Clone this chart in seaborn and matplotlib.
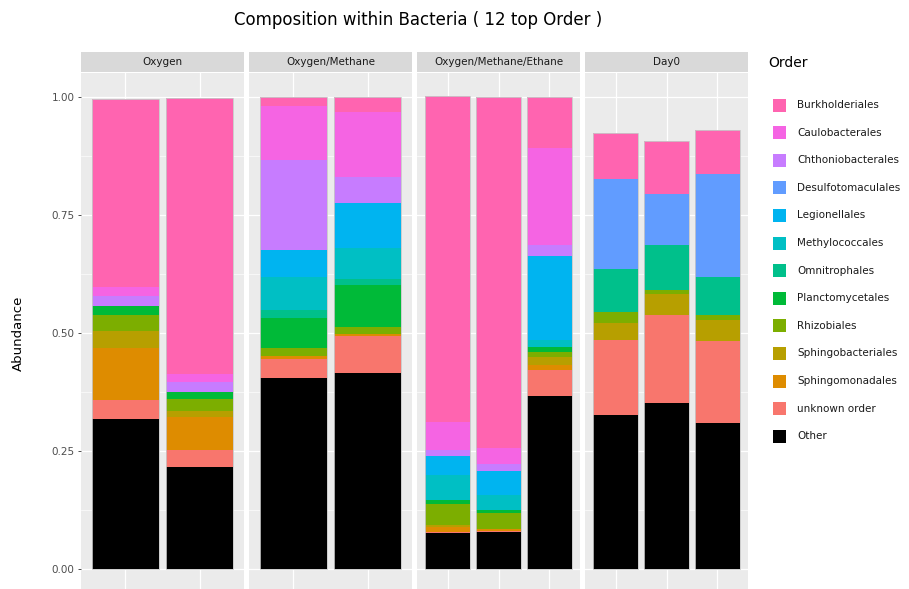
import numpy as np
import pandas as pd
import matplotlib
matplotlib.use("Agg")
import matplotlib.pyplot as plt
import seaborn as sns
from matplotlib.patches import Rectangle

# ---------------- data ----------------
facets = ["Oxygen", "Oxygen/Methane", "Oxygen/Methane/Ethane", "Day0"]
samples = ["O_1", "O_2", "OM_1", "OM_2", "OME_1", "OME_2", "OME_3", "D0_1", "D0_2", "D0_3"]
sample_facet = ["Oxygen"] * 2 + ["Oxygen/Methane"] * 2 + ["Oxygen/Methane/Ethane"] * 3 + ["Day0"] * 3

orders = ["Burkholderiales", "Caulobacterales", "Chthoniobacterales", "Desulfotomaculales",
          "Legionellales", "Methylococcales", "Omnitrophales", "Planctomycetales",
          "Rhizobiales", "Sphingobacteriales", "Sphingomonadales", "unknown order", "Other"]

burkholderiales    = [0.398, 0.584, 0.018, 0.030, 0.690, 0.743, 0.107, 0.097, 0.111, 0.094]
caulobacterales    = [0.018, 0.018, 0.115, 0.139, 0.061, 0.033, 0.205, 0.000, 0.000, 0.000]
chthoniobacterales = [0.021, 0.021, 0.191, 0.055, 0.012, 0.016, 0.023, 0.000, 0.000, 0.000]
desulfotomaculales = [0.000, 0.000, 0.000, 0.000, 0.000, 0.000, 0.000, 0.190, 0.108, 0.219]
legionellales      = [0.000, 0.000, 0.057, 0.095, 0.041, 0.051, 0.180, 0.000, 0.000, 0.000]
methylococcales    = [0.000, 0.000, 0.069, 0.065, 0.053, 0.032, 0.014, 0.000, 0.000, 0.000]
omnitrophales      = [0.000, 0.000, 0.018, 0.014, 0.000, 0.000, 0.000, 0.092, 0.095, 0.079]
planctomycetales   = [0.019, 0.016, 0.064, 0.089, 0.007, 0.005, 0.011, 0.000, 0.000, 0.000]
rhizobiales        = [0.035, 0.025, 0.016, 0.014, 0.046, 0.034, 0.010, 0.024, 0.009, 0.012]
sphingobacteriales = [0.036, 0.012, 0.000, 0.000, 0.003, 0.000, 0.018, 0.036, 0.044, 0.045]
sphingomonadales   = [0.111, 0.071, 0.006, 0.005, 0.010, 0.004, 0.010, 0.000, 0.000, 0.000]
unknown_order      = [0.039, 0.035, 0.041, 0.078, 0.003, 0.004, 0.055, 0.157, 0.188, 0.172]
other              = [0.319, 0.217, 0.405, 0.416, 0.077, 0.078, 0.367, 0.328, 0.352, 0.311]

values = [burkholderiales, caulobacterales, chthoniobacterales, desulfotomaculales,
          legionellales, methylococcales, omnitrophales, planctomycetales,
          rhizobiales, sphingobacteriales, sphingomonadales, unknown_order, other]

colors = ["#FF64B0", "#F564E3", "#C77CFF", "#619CFF", "#00B4F0", "#00BFC4",
          "#00C08B", "#00BA38", "#7CAE00", "#B79F00", "#DE8C00", "#F8766D", "#000000"]

# ---------------- long table ----------------
rows = []
for o, vals in zip(orders, values):
    for s, f, v in zip(samples, sample_facet, vals):
        rows.append({"Sample": s, "Facet": f, "Order": o, "Abundance": v})
df = pd.DataFrame(rows)
df["Order"] = pd.Categorical(df["Order"], categories=orders, ordered=True)
# cumulative from bottom (Other) up
df = df.sort_values(["Sample", "Order"], ascending=[True, False])
df["Cum"] = df.groupby("Sample")["Abundance"].cumsum()

# ---------------- figure ----------------
W, H = 909, 589
fig = plt.figure(figsize=(W / 100, H / 100), dpi=100)
plt.rcParams["font.family"] = ["DejaVu Sans"]

panel_bg = "#EBEBEB"
strip_bg = "#D9D9D9"

ax_top_px, ax_bot_px = 73, 589
y0_px, y1_px = 569.3, 97.5   # pixel rows of 0 and 1
per = y0_px - y1_px
ylo = (y0_px - ax_bot_px) / per
yhi = (y0_px - ax_top_px) / per

panel_left = [81, 249, 417, 585]
panel_w = 163

for i, f in enumerate(facets):
    left = panel_left[i] / W
    ax = fig.add_axes([left, 1 - ax_bot_px / H, panel_w / W, (ax_bot_px - ax_top_px) / H])
    ax.set_facecolor(panel_bg)
    sub = df[df["Facet"] == f]
    samp = [s for s, ff in zip(samples, sample_facet) if ff == f]
    n = len(samp)
    # grid
    for yv in [0, 0.25, 0.5, 0.75, 1.0]:
        ax.axhline(yv, color="white", lw=0.9, zorder=0)
    for yv in [0.125, 0.375, 0.625, 0.875]:
        ax.axhline(yv, color="white", lw=0.45, zorder=0)
    for xv in range(n):
        ax.axvline(xv, color="white", lw=0.9, zorder=0)
    for o, c in zip(orders, colors):
        d = sub[sub["Order"] == o]
        sns.barplot(data=d, x="Sample", y="Cum", order=samp, color=c, width=0.9,
                    saturation=1, ax=ax, edgecolor="none", linewidth=0, zorder=2)
    tot = sub[sub["Order"] == orders[0]]
    sns.barplot(data=tot, x="Sample", y="Cum", order=samp, fill=False, width=0.9,
                ax=ax, edgecolor="#C8C8C8", linewidth=0.6, zorder=3)
    ax.set_xlim(-0.6, n - 0.4)
    ax.set_ylim(ylo, yhi)
    ax.set_xlabel("")
    ax.set_ylabel("")
    ax.set_xticks([])
    for sp in ax.spines.values():
        sp.set_visible(False)
    if i == 0:
        ax.set_yticks([0, 0.25, 0.5, 0.75, 1.0])
        ax.set_yticklabels(["0.00", "0.25", "0.50", "0.75", "1.00"])
        ax.tick_params(axis="y", length=2.5, width=0.6, color="#333333",
                       labelsize=7.5, labelcolor="#4D4D4D", pad=2)
    else:
        ax.set_yticks([])
    # strip
    fig.patches.append(Rectangle((left, 1 - 72 / H), panel_w / W, 20 / H,
                                 transform=fig.transFigure, facecolor=strip_bg,
                                 edgecolor="none"))
    fig.text(left + panel_w / W / 2, 1 - 62 / H, f, ha="center", va="center",
             fontsize=7.5, color="#1A1A1A")

fig.text(418 / W, 1 - 20 / H, "Composition within Bacteria ( 12 top Order )",
         ha="center", va="center", fontsize=12, color="black")
fig.text(18 / W, 1 - 333 / H, "Abundance", rotation=90, ha="center", va="center",
         fontsize=9.5, color="black")

# legend
fig.text(768 / W, 1 - 63 / H, "Order", ha="left", va="center", fontsize=10)
step = 27.6
for k, (o, c) in enumerate(zip(orders, colors)):
    yc = 105 + k * step
    fig.patches.append(Rectangle((773 / W, 1 - (yc + 6.5) / H), 13 / W, 13 / H,
                                 transform=fig.transFigure, facecolor=c, edgecolor="none"))
    fig.text(797 / W, 1 - yc / H, o, ha="left", va="center", fontsize=7.5, color="#1A1A1A")

fig.savefig("out.png", dpi=100)
